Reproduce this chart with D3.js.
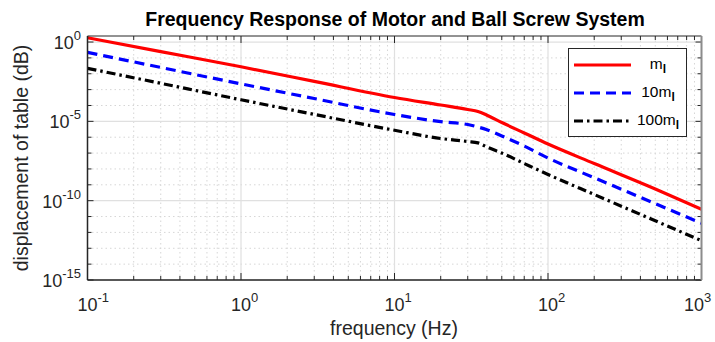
<!DOCTYPE html>
<head>
<style>
* {
 font-family: "Liberation Sans", Arial, sans-serif;
}
body { margin: 0; background: #fff; }
</style>
</head>
<body>
<svg width="715" height="342"></svg>
<script src="https://d3js.org/d3.v7.min.js"></script>
<script>

// frequencies (Hz)
var freq = [0.1, 0.3, 1, 3, 10, 20, 30, 35, 40, 50, 70, 100, 200, 500, 1000];

// displacement for each load mass
var dispM1   = [1.86, 2.5e-1, 2.75e-2, 3.3e-3, 3.2e-4, 1.07e-4, 5.6e-5, 4.2e-5, 2.45e-5, 8.5e-6, 1.86e-6, 3.7e-7, 2.2e-8, 5.5e-10, 2.9e-11];
var dispM10  = [2.24e-1, 2.5e-2, 2.3e-3, 2.75e-4, 2.7e-5, 9.5e-6, 6.3e-6, 4.4e-6, 2.95e-6, 1.2e-6, 2.8e-7, 4.9e-8, 2.8e-9, 6.5e-11, 3.8e-12];
var dispM100 = [2.2e-2, 2.5e-3, 2.3e-4, 2.75e-5, 2.75e-6, 8.3e-7, 5.4e-7, 4.4e-7, 2.4e-7, 1.0e-7, 2.2e-8, 4.5e-9, 2.45e-10, 5.4e-12, 3.0e-13];

var legendNames = ["m", "10m", "100m"];

var xMajor = [0.1, 1, 10, 100, 1000];
var yMajor = [1e-15, 1e-10, 1e-5, 1];

var series = [
  {name: legendNames[0], values: dispM1,   color: "#ff0000", dash: null},
  {name: legendNames[1], values: dispM10,  color: "#0000ff", dash: "10,6"},
  {name: legendNames[2], values: dispM100, color: "#000000", dash: "9,4,2.5,4"}
];

var L = 87.5, R = 701.5, T = 36, B = 280;
var svg = d3.select("svg");
var ink = "#262626";

var x = d3.scaleLog().domain([0.1, 1000]).range([L, R]);
var y = d3.scaleLog().domain([1e-15, Math.pow(10, 0.38)]).range([B, T]);

// minor values
var xMinor = [];
for (var e = -1; e < 3; e++) for (var k = 2; k < 10; k++) xMinor.push(k * Math.pow(10, e));
var yMinor = [];
for (var p = -14; p <= 0; p++) if (p % 5 != 0) yMinor.push(Math.pow(10, p));

var grid = svg.append("g");
grid.selectAll(".xmin").data(xMinor).enter().append("line")
  .attr("x1", d => x(d)).attr("x2", d => x(d)).attr("y1", T).attr("y2", B)
  .attr("stroke", "#d6d6d6").attr("stroke-width", 1).attr("stroke-dasharray", "1.5,3");
grid.selectAll(".ymin").data(yMinor).enter().append("line")
  .attr("y1", d => y(d)).attr("y2", d => y(d)).attr("x1", L).attr("x2", R)
  .attr("stroke", "#d6d6d6").attr("stroke-width", 1).attr("stroke-dasharray", "1.5,3");
grid.selectAll(".xmaj").data(xMajor).enter().append("line")
  .attr("x1", d => x(d)).attr("x2", d => x(d)).attr("y1", T).attr("y2", B)
  .attr("stroke", "#e0e0e0").attr("stroke-width", 1.2);
grid.selectAll(".ymaj").data(yMajor).enter().append("line")
  .attr("y1", d => y(d)).attr("y2", d => y(d)).attr("x1", L).attr("x2", R)
  .attr("stroke", "#e0e0e0").attr("stroke-width", 1.2);

// ticks on all four sides, pointing inwards
var ticks = svg.append("g").attr("stroke", ink).attr("stroke-width", 1);
function xt(vals, len) {
  vals.forEach(function(v) {
    ticks.append("line").attr("x1", x(v)).attr("x2", x(v)).attr("y1", B).attr("y2", B - len);
    ticks.append("line").attr("x1", x(v)).attr("x2", x(v)).attr("y1", T).attr("y2", T + len);
  });
}
function yt(vals, len) {
  vals.forEach(function(v) {
    ticks.append("line").attr("y1", y(v)).attr("y2", y(v)).attr("x1", L).attr("x2", L + len);
    ticks.append("line").attr("y1", y(v)).attr("y2", y(v)).attr("x1", R).attr("x2", R - len);
  });
}
xt(xMajor, 7); xt(xMinor, 4);
yt(yMajor, 6); yt(yMinor, 4);

// curves
var line = d3.line()
  .x(d => x(d[0])).y(d => y(d[1]))
  .curve(d3.curveMonotoneX);

svg.append("clipPath").attr("id", "clip").append("rect")
  .attr("x", L).attr("y", T - 2).attr("width", R - L).attr("height", B - T + 2);

series.forEach(function(s) {
  svg.append("path")
    .datum(freq.map((f, i) => [f, s.values[i]]))
    .attr("clip-path", "url(#clip)")
    .attr("d", line)
    .attr("fill", "none")
    .attr("stroke", s.color)
    .attr("stroke-width", 3.2)
    .attr("stroke-dasharray", s.dash);
});

// box
svg.append("line").attr("x1", L).attr("x2", R).attr("y1", B).attr("y2", B).attr("stroke", ink).attr("stroke-width", 1.5);
svg.append("line").attr("x1", L).attr("x2", L).attr("y1", T).attr("y2", B).attr("stroke", ink).attr("stroke-width", 1.5);
svg.append("line").attr("x1", L).attr("x2", R).attr("y1", T).attr("y2", T).attr("stroke", ink).attr("stroke-width", 1);
svg.append("line").attr("x1", R).attr("x2", R).attr("y1", T).attr("y2", B).attr("stroke", "#8c8c8c").attr("stroke-width", 2);

// tick labels
function ex(v) { return Math.round(Math.log10(v)); }
xMajor.forEach(function(v) {
  var shift = Math.min(0, 704 - (x(v) + 10));
  svg.append("text").attr("x", x(v) + shift).attr("y", 311)
    .attr("text-anchor", "middle").attr("font-size", 18).attr("fill", ink).text("10");
  svg.append("text").attr("x", x(v) + 10 + shift).attr("y", 302)
    .attr("font-size", 13).attr("fill", ink).text(ex(v));
});
yMajor.forEach(function(v) {
  var t = svg.append("text").attr("x", 81).attr("y", y(v) + 7)
    .attr("text-anchor", "end").attr("font-size", 18).attr("fill", ink);
  t.append("tspan").text("10");
  t.append("tspan").attr("dy", -9).attr("font-size", 13).text(ex(v));
});

// titles
svg.append("text").attr("x", 395).attr("y", 26).attr("text-anchor", "middle")
  .attr("font-size", 19.5).attr("font-weight", "bold").attr("fill", "#000")
  .text("Frequency Response of Motor and Ball Screw System");
svg.append("text").attr("x", 394).attr("y", 335).attr("text-anchor", "middle")
  .attr("font-size", 19.5).attr("fill", ink).text("frequency (Hz)");
svg.append("text").attr("transform", "translate(28,158) rotate(-90)").attr("text-anchor", "middle")
  .attr("font-size", 19.5).attr("fill", ink).text("displacement of table (dB)");

// legend
var lg = svg.append("g");
lg.append("rect").attr("x", 568.5).attr("y", 48.5).attr("width", 118).attr("height", 88)
  .attr("fill", "#fff").attr("stroke", ink).attr("stroke-width", 1);
series.forEach(function(s, i) {
  var ly = 65 + i * 28;
  lg.append("line").attr("x1", 574).attr("x2", 631).attr("y1", ly).attr("y2", ly)
    .attr("stroke", s.color).attr("stroke-width", 3.2).attr("stroke-dasharray", s.dash);
  var t = lg.append("text").attr("x", 658).attr("y", ly + 4).attr("text-anchor", "middle")
    .attr("font-size", 15.5).attr("fill", "#000");
  t.append("tspan").text(s.name);
  t.append("tspan").attr("dy", 4).attr("font-size", 12).attr("font-weight", "bold").text("l");
});

</script>
</body>
